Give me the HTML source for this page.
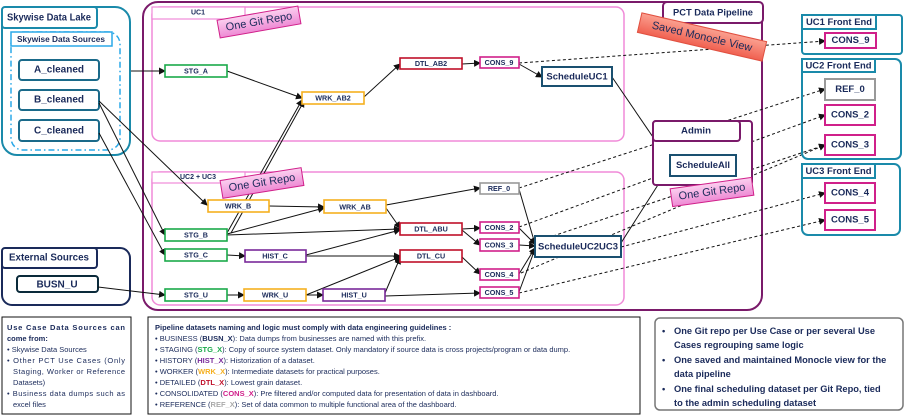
<!DOCTYPE html>
<html><head><meta charset="utf-8"><style>
html,body{margin:0;padding:0;background:#fff;}
svg{display:block;font-family:"Liberation Sans",sans-serif;}
.t{font-weight:bold;fill:#1a2a5a;text-anchor:middle;dominant-baseline:central;}
</style></head><body>
<svg width="906" height="416" viewBox="0 0 906 416" xmlns="http://www.w3.org/2000/svg">
<defs>
<marker id="a" markerWidth="7" markerHeight="7" refX="6" refY="3.5" orient="auto" markerUnits="userSpaceOnUse"><path d="M0,0 L7,3.5 L0,7 z" fill="#111"/></marker>
<linearGradient id="pk" x1="0" y1="0" x2="0" y2="1"><stop offset="0" stop-color="#fbd0f0"/><stop offset="1" stop-color="#ee8ad4"/></linearGradient>
<linearGradient id="sm" x1="0" y1="0" x2="0" y2="1"><stop offset="0" stop-color="#fba090"/><stop offset="1" stop-color="#f06050"/></linearGradient>
</defs>

<!-- Skywise data lake -->
<rect x="2" y="7" width="128" height="148" rx="15" fill="none" stroke="#1a8aaa" stroke-width="2"/>
<rect x="2" y="7" width="95" height="21" rx="3" fill="#fff" stroke="#1a8aaa" stroke-width="2"/>
<text class="t" x="49" y="18" font-size="10" textLength="84" lengthAdjust="spacingAndGlyphs">Skywise Data Lake</text>
<rect x="11" y="32" width="109" height="118" rx="12" fill="none" stroke="#2aa8e8" stroke-width="1.5" stroke-dasharray="6,3,1.5,3"/>
<rect x="11" y="32" width="101" height="14" fill="#fff" stroke="#2aa8e8" stroke-width="1.5"/>
<text class="t" x="61" y="39" font-size="8.5" textLength="88" lengthAdjust="spacingAndGlyphs">Skywise Data Sources</text>
<g fill="#fff" stroke="#1a6a8a" stroke-width="2">
<rect x="19" y="60" width="80" height="20" rx="3"/><rect x="19" y="90" width="80" height="20" rx="3"/><rect x="19" y="120" width="80" height="21" rx="3"/></g>
<text class="t" x="59" y="70" font-size="10">A_cleaned</text>
<text class="t" x="59" y="100" font-size="10">B_cleaned</text>
<text class="t" x="59" y="131" font-size="10">C_cleaned</text>

<!-- External -->
<rect x="2" y="248" width="128" height="57" rx="10" fill="none" stroke="#1a2a5a" stroke-width="2"/>
<rect x="2" y="248" width="95" height="20" rx="3" fill="#fff" stroke="#1a2a5a" stroke-width="2"/>
<text class="t" x="49" y="258" font-size="10" textLength="80" lengthAdjust="spacingAndGlyphs">External Sources</text>
<rect x="17" y="276" width="81" height="16" rx="3" fill="#fff" stroke="#0a2a3a" stroke-width="2"/>
<text class="t" x="57" y="285" font-size="10">BUSN_U</text>

<!-- Pipeline -->
<rect x="143" y="2" width="619" height="308" rx="15" fill="none" stroke="#7a1a6a" stroke-width="2"/>
<rect x="152" y="7" width="472" height="134" rx="8" fill="none" stroke="#f08ad8" stroke-width="1.5"/>
<rect x="152" y="7" width="93" height="12" fill="#fff" stroke="#f08ad8" stroke-width="1.2"/>
<text class="t" x="198" y="13" font-size="7">UC1</text>
<rect x="152" y="172" width="472" height="133" rx="8" fill="none" stroke="#f08ad8" stroke-width="1.5"/>
<rect x="152" y="172" width="93" height="11" fill="#fff" stroke="#f08ad8" stroke-width="1.2"/>
<text class="t" x="198" y="177.5" font-size="7">UC2 + UC3</text>

<!-- solid edges -->
<g stroke="#111" stroke-width="1" fill="none" marker-end="url(#a)">
<line x1="131" y1="71" x2="165" y2="71"/>
<line x1="99" y1="101" x2="207" y2="205"/>
<line x1="99" y1="103" x2="165" y2="235"/>
<line x1="99" y1="133" x2="165" y2="255"/>
<line x1="98" y1="287" x2="165" y2="295"/>
<line x1="227" y1="71" x2="302" y2="98"/>
<line x1="227" y1="233" x2="302" y2="100"/>
<line x1="231" y1="233" x2="304" y2="101"/>
<line x1="364" y1="97" x2="400" y2="64"/>
<line x1="462" y1="64" x2="480" y2="63"/>
<line x1="519" y1="64" x2="542" y2="77"/>
<line x1="612" y1="77" x2="670" y2="162"/>
<line x1="269" y1="206" x2="324" y2="207"/>
<line x1="227" y1="234" x2="324" y2="208"/>
<line x1="227" y1="235" x2="400" y2="229"/>
<line x1="386" y1="205" x2="480" y2="188"/>
<line x1="386" y1="208" x2="400" y2="228"/>
<line x1="306" y1="255" x2="400" y2="230"/>
<line x1="227" y1="255" x2="245" y2="256"/>
<line x1="306" y1="256" x2="400" y2="256"/>
<line x1="306" y1="295" x2="400" y2="257"/>
<line x1="385" y1="293" x2="400" y2="258"/>
<line x1="227" y1="295" x2="244" y2="295"/>
<line x1="306" y1="295" x2="323" y2="295"/>
<line x1="385" y1="296" x2="480" y2="293"/>
<line x1="462" y1="229" x2="480" y2="228"/>
<line x1="462" y1="230" x2="480" y2="245"/>
<line x1="462" y1="257" x2="480" y2="274"/>
<line x1="519" y1="189" x2="535" y2="244"/>
<line x1="519" y1="228" x2="535" y2="244"/>
<line x1="519" y1="245" x2="535" y2="246"/>
<line x1="519" y1="274" x2="535" y2="248"/>
<line x1="519" y1="292" x2="535" y2="249"/>
<line x1="621" y1="243" x2="670" y2="166"/>
</g>
<!-- dashed edges -->
<g stroke="#111" stroke-width="1" fill="none" stroke-dasharray="3,2.5" marker-end="url(#a)">
<line x1="519" y1="63" x2="825" y2="41"/>
<line x1="519" y1="188" x2="825" y2="89"/>
<line x1="519" y1="227" x2="825" y2="115"/>
<line x1="553" y1="236" x2="825" y2="145"/>
<line x1="521" y1="273" x2="825" y2="145"/>
<line x1="621" y1="247" x2="825" y2="193"/>
<line x1="519" y1="293" x2="825" y2="220"/>
</g>

<!-- nodes -->
<g fill="#fff" stroke-width="1.6">
<g stroke="#1aaa4a"><rect x="165" y="65" width="62" height="12"/><rect x="165" y="229" width="62" height="12"/><rect x="165" y="249" width="62" height="12"/><rect x="165" y="289" width="62" height="12"/></g>
<g stroke="#f5b020"><rect x="302" y="92" width="62" height="12"/><rect x="208" y="200" width="61" height="12"/><rect x="324" y="200" width="62" height="13"/><rect x="244" y="289" width="62" height="12"/></g>
<g stroke="#c0102a"><rect x="400" y="58" width="62" height="11"/><rect x="400" y="223" width="62" height="12"/><rect x="400" y="250" width="62" height="12"/></g>
<g stroke="#7a2a9a"><rect x="245" y="250" width="61" height="12"/><rect x="323" y="289" width="62" height="12"/></g>
<g stroke="#d0208a"><rect x="480" y="57" width="39" height="11"/><rect x="480" y="222" width="39" height="11"/><rect x="480" y="239" width="39" height="12"/><rect x="480" y="269" width="39" height="11"/><rect x="480" y="287" width="39" height="11"/></g>
<rect x="480" y="183" width="39" height="11" stroke="#999"/>
<g stroke="#1a5070" stroke-width="2"><rect x="542" y="67" width="70" height="19"/><rect x="535" y="236" width="86" height="21"/></g>
</g>
<g font-size="7.2">
<text class="t" x="196" y="71">STG_A</text><text class="t" x="196" y="235">STG_B</text><text class="t" x="196" y="255">STG_C</text><text class="t" x="196" y="295">STG_U</text>
<text class="t" x="333" y="98">WRK_AB2</text><text class="t" x="238" y="206">WRK_B</text><text class="t" x="355" y="207">WRK_AB</text><text class="t" x="275" y="295">WRK_U</text>
<text class="t" x="431" y="63.5">DTL_AB2</text><text class="t" x="431" y="229">DTL_ABU</text><text class="t" x="431" y="256">DTL_CU</text>
<text class="t" x="275" y="256">HIST_C</text><text class="t" x="354" y="295">HIST_U</text>
<text class="t" x="499" y="62.5">CONS_9</text><text class="t" x="499" y="227.5">CONS_2</text><text class="t" x="499" y="245">CONS_3</text><text class="t" x="499" y="274.5">CONS_4</text><text class="t" x="499" y="292.5">CONS_5</text><text class="t" x="499" y="188.5">REF_0</text>
</g>
<text class="t" x="577" y="77" font-size="9.5">ScheduleUC1</text>
<text class="t" x="578" y="247" font-size="9.5" textLength="80" lengthAdjust="spacingAndGlyphs">ScheduleUC2UC3</text>

<!-- PCT title -->
<rect x="663" y="2" width="100" height="21" rx="4" fill="#fff" stroke="#7a1a6a" stroke-width="2"/>
<text class="t" x="713" y="12.5" font-size="9" textLength="80" lengthAdjust="spacingAndGlyphs">PCT Data Pipeline</text>

<!-- Admin -->
<rect x="653" y="121" width="99" height="64" rx="3" fill="#fff" stroke="#7a1a6a" stroke-width="2"/>
<rect x="653" y="121" width="87" height="20" rx="3" fill="#fff" stroke="#7a1a6a" stroke-width="2"/>
<text class="t" x="696" y="131" font-size="9.5" textLength="30" lengthAdjust="spacingAndGlyphs">Admin</text>
<rect x="670" y="155" width="66" height="21" fill="#fff" stroke="#1a5070" stroke-width="2"/>
<text class="t" x="703" y="165.5" font-size="9.5" textLength="54" lengthAdjust="spacingAndGlyphs">ScheduleAll</text>

<!-- badges -->
<g transform="translate(259,22) rotate(-10)"><rect x="-41" y="-9" width="82" height="18" fill="url(#pk)" stroke="#d0208a" stroke-width="1"/><text x="0" y="0" font-size="11" fill="#1a2a5a" text-anchor="middle" dominant-baseline="central">One Git Repo</text></g>
<g transform="translate(262,183) rotate(-9)"><rect x="-41" y="-9" width="82" height="18" fill="url(#pk)" stroke="#d0208a" stroke-width="1"/><text x="0" y="0" font-size="11" fill="#1a2a5a" text-anchor="middle" dominant-baseline="central">One Git Repo</text></g>
<g transform="translate(712,192) rotate(-8)"><rect x="-41" y="-9" width="82" height="18" fill="url(#pk)" stroke="#d0208a" stroke-width="1"/><text x="0" y="0" font-size="11" fill="#1a2a5a" text-anchor="middle" dominant-baseline="central">One Git Repo</text></g>
<g transform="translate(702,37) rotate(13)"><rect x="-64" y="-10" width="128" height="20" fill="url(#sm)" stroke="#e05040" stroke-width="1"/><text x="0" y="0" font-size="11" fill="#1a2a5a" text-anchor="middle" dominant-baseline="central">Saved Monocle View</text></g>

<!-- front ends -->
<g fill="none" stroke="#1a8aaa" stroke-width="2">
<rect x="802" y="15" width="100" height="39" rx="3"/>
<rect x="802" y="59" width="99" height="100" rx="6"/>
<rect x="802" y="164" width="98" height="71" rx="6"/>
</g>
<g fill="#fff" stroke="#1a8aaa" stroke-width="2">
<rect x="802" y="15" width="74" height="14"/><rect x="802" y="59" width="73" height="13"/><rect x="802" y="164" width="73" height="14"/>
</g>
<text class="t" x="839" y="22" font-size="9" textLength="66" lengthAdjust="spacingAndGlyphs">UC1 Front End</text>
<text class="t" x="838.5" y="65.5" font-size="9" textLength="66" lengthAdjust="spacingAndGlyphs">UC2 Front End</text>
<text class="t" x="838.5" y="171" font-size="9" textLength="66" lengthAdjust="spacingAndGlyphs">UC3 Front End</text>
<g fill="#fff" stroke-width="2">
<rect x="825" y="33" width="51" height="15" stroke="#d0208a"/>
<rect x="825" y="79" width="50" height="21" stroke="#999"/>
<rect x="825" y="105" width="50" height="20" stroke="#d0208a"/>
<rect x="825" y="135" width="50" height="20" stroke="#d0208a"/>
<rect x="825" y="183" width="50" height="20" stroke="#d0208a"/>
<rect x="825" y="210" width="50" height="20" stroke="#d0208a"/>
</g>
<g font-size="9.5">
<text class="t" x="850.5" y="40.5">CONS_9</text><text class="t" x="850" y="89.5">REF_0</text><text class="t" x="850" y="115">CONS_2</text><text class="t" x="850" y="145">CONS_3</text><text class="t" x="850" y="193">CONS_4</text><text class="t" x="850" y="220">CONS_5</text>
</g>

<!-- bottom notes -->
<rect x="2" y="317" width="129" height="97" fill="#fff" stroke="#111" stroke-width="1"/>
<g font-size="7.5" fill="#1a2a5a">
<text x="7" y="330" font-weight="bold" textLength="118" lengthAdjust="spacing">Use Case Data Sources can</text>
<text x="7" y="341" font-weight="bold">come from:</text>
<text x="7" y="352">• Skywise Data Sources</text>
<text x="7" y="363" textLength="118" lengthAdjust="spacing">• Other PCT Use Cases (Only</text>
<text x="13" y="374" textLength="112" lengthAdjust="spacing">Staging, Worker or Reference</text>
<text x="13" y="385">Datasets)</text>
<text x="7" y="396" textLength="118" lengthAdjust="spacing">• Business data dumps such as</text>
<text x="13" y="407">excel files</text>
</g>
<rect x="148" y="317" width="492" height="97" fill="#fff" stroke="#111" stroke-width="1"/>
<g font-size="7.5" fill="#1a2a5a">
<text x="155" y="330" font-weight="bold">Pipeline datasets naming and logic must comply with data engineering guidelines :</text>
<text x="155" y="341">• BUSINESS (<tspan font-weight="bold">BUSN_X</tspan>): Data dumps from businesses are named with this prefix.</text>
<text x="155" y="352">• STAGING (<tspan font-weight="bold" fill="#1aaa4a">STG_X</tspan>): Copy of source system dataset. Only mandatory if source data is cross projects/program or data dump.</text>
<text x="155" y="363">• HISTORY (<tspan font-weight="bold" fill="#7a2a9a">HIST_X</tspan>): Historization of a dataset.</text>
<text x="155" y="374">• WORKER (<tspan font-weight="bold" fill="#f5b020">WRK_X</tspan>): Intermediate datasets for practical purposes.</text>
<text x="155" y="385">• DETAILED (<tspan font-weight="bold" fill="#c0102a">DTL_X</tspan>): Lowest grain dataset.</text>
<text x="155" y="396">• CONSOLIDATED (<tspan font-weight="bold" fill="#d0208a">CONS_X</tspan>): Pre filtered and/or computed data for presentation of data in dashboard.</text>
<text x="155" y="407">• REFERENCE (<tspan font-weight="bold" fill="#aaa">REF_X</tspan>): Set of data common to multiple functional area of the dashboard.</text>
</g>
<rect x="655" y="318" width="248" height="92" rx="5" fill="#fff" stroke="#777" stroke-width="1.5"/>
<g font-size="9.3" fill="#1a2a5a" font-weight="bold">
<text x="662" y="334">•</text><text x="674" y="334">One Git repo per Use Case or per several Use</text>
<text x="674" y="348">Cases regrouping same logic</text>
<text x="662" y="363">•</text><text x="674" y="363">One saved and maintained Monocle view for the</text>
<text x="674" y="377">data pipeline</text>
<text x="662" y="392">•</text><text x="674" y="392">One final scheduling dataset per Git Repo, tied</text>
<text x="674" y="406">to the admin scheduling dataset</text>
</g>
</svg>
</body></html>
